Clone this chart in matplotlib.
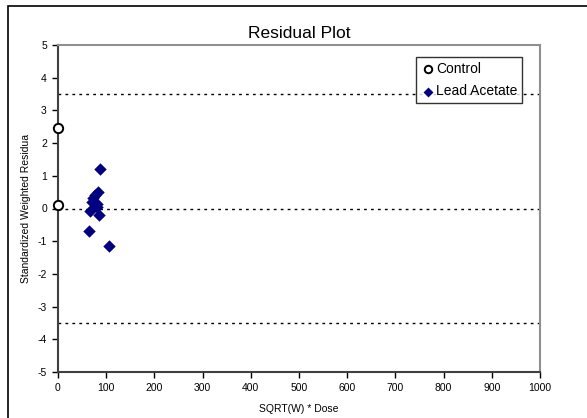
import matplotlib
matplotlib.use("Agg")
import matplotlib.pyplot as plt
from matplotlib.patches import Rectangle

plt.rcParams['font.family'] = ['Liberation Sans', 'DejaVu Sans']
plt.rcParams['axes.unicode_minus'] = False

control_x = [0, 0]
control_y = [2.45, 0.1]
lead_x = [88, 84, 77, 72, 70, 81, 80, 66, 85, 65, 106]
lead_y = [1.2, 0.51, 0.41, 0.31, 0.21, 0.14, 0.04, -0.07, -0.2, -0.68, -1.15]
ref_lines = [3.5, 0, -3.5]
x_ticks = list(range(0, 1001, 100))
y_ticks = list(range(-5, 6))

fig = plt.figure(figsize=(5.87, 4.18), dpi=100)
fig.patches.append(Rectangle((8/587, -0.1), 1.2, 1 - 6/418 + 0.1, transform=fig.transFigure,
                             fill=False, edgecolor='black', linewidth=1.2, zorder=0))
ax = fig.add_axes([58/587, 1 - 372/418, (540 - 58)/587, (372 - 45)/418])

for y in ref_lines:
    ax.axhline(y, color='black', linestyle=(0, (2, 3)), linewidth=1.0, zorder=1)

ax.scatter(control_x, control_y, s=45, facecolors='white', edgecolors='black',
           linewidths=1.4, marker='o', label='Control', zorder=3, clip_on=False)
ax.scatter(lead_x, lead_y, s=40, color='#000080', marker='D', label='Lead Acetate',
           zorder=3, linewidths=0)

ax.set_xlim(0, 1000)
ax.set_ylim(-5, 5)
ax.set_xticks(x_ticks)
ax.set_yticks(y_ticks)
ax.tick_params(axis='both', labelsize=7.5, direction='out', length=4, width=1, pad=4)
for s in ['left', 'bottom']:
    ax.spines[s].set_color('#404040')
    ax.spines[s].set_linewidth(1.5)
for s in ['top', 'right']:
    ax.spines[s].set_color('#909090')
    ax.spines[s].set_linewidth(1.5)

ax.set_title('Residual Plot', fontsize=12.5, pad=5)
ax.set_xlabel('SQRT(W) * Dose', fontsize=7.5, labelpad=8)
ax.set_ylabel('Standardized Weighted Residua', fontsize=7.5, labelpad=5)

leg = ax.legend(loc='upper left', bbox_to_anchor=((416 - 58) / 482, (372 - 57) / 327),
                fontsize=10, frameon=True, fancybox=False, edgecolor='black',
                handletextpad=0.1, borderpad=0.35, labelspacing=0.6, handlelength=1.0,
                borderaxespad=0, markerscale=0.8)
leg.get_frame().set_linewidth(1.0)

fig.savefig('out.png', dpi=100)
